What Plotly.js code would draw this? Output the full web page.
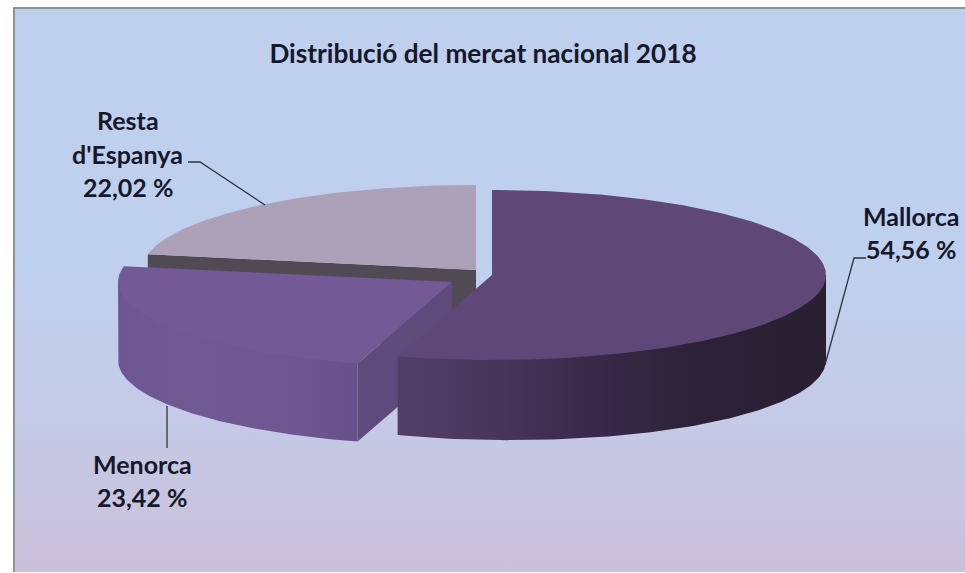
<!DOCTYPE html>
<html>
<head>
<meta charset="utf-8">
<script src="https://cdn.plot.ly/plotly-3.0.1.min.js"></script>
<style>
html,body{margin:0;padding:0;background:#fff;width:965px;height:573px;overflow:hidden}
#frame{position:absolute;left:13px;top:7px;width:952px;height:565px;box-sizing:border-box;
 border-left:2px solid #8d9296;border-top:2px solid #8d9296;
 background:linear-gradient(180deg,#bfd0ee 0%,#bfd0ee 45%,#c4cbe8 70%,#cbc0da 100%)}
#chart{position:absolute;left:0;top:0;width:965px;height:573px}
</style>
</head>
<body>
<div id="frame"></div>
<div id="chart"></div>
<script>
// Data
const categories = ["Mallorca", "Menorca", "Resta d'Espanya"];
const shares = [54.56, 23.42, 22.02];
const chartTitle = "Distribució del mercat nacional 2018";

// Projection of the tilted disc, in plot units
const radiusX = 334, radiusY = 85;
const apexes = {Mallorca:[492,275], Menorca:[452,282], Resta:[476,270]};
const depthMenorca = 78, depthResta = 78;

// Slice angles (clockwise from 12 o'clock) derived from the shares
const total = shares.reduce((a,b)=>a+b,0);
const degMallorca = shares[0]/total*360;
const degMenorca = degMallorca + shares[1]/total*360;

function rim(c,t,k){const r=t*Math.PI/180,s=k||1;return [c[0]+s*radiusX*Math.sin(r), c[1]-s*radiusY*Math.cos(r)];}
function arc(c,t0,t1,depth,k){
  const pts=[],n=Math.max(2,Math.ceil(Math.abs(t1-t0)));
  for(let i=0;i<=n;i++){const t=t0+(t1-t0)*i/n;const p=rim(c,t,k);pts.push([p[0],p[1]+(depth?depth(t):0)]);}
  return pts;
}
function poly(pts,style){
  const closed=pts.concat([pts[0]]);
  return Object.assign({type:'scatter',mode:'lines',x:closed.map(p=>p[0]),y:closed.map(p=>p[1]),
    fill:'toself',line:{width:0},hoverinfo:'skip',showlegend:false},style);
}
function face(c,t0,t1,color){return poly([c].concat(arc(c,t0,t1)),{fillcolor:color});}
// The wall runs a little under the top face so no seam shows along the rim
function wall(c,t0,t1,depth,stops){
  const under=arc(c,t0,t1,null,0.96), down=arc(c,t1,t0,depth);
  return poly([rim(c,t0)].concat(under,[rim(c,t1)],down),{fillgradient:{type:'horizontal',colorscale:stops}});
}
function cut(c,t,d,color){
  const p=rim(c,t);
  return poly([c,p,[p[0],p[1]+d],[c[0],c[1]+d]],{fillcolor:color});
}
const depthMallorca = t => 80 + 5*Math.sin(t*Math.PI/180);

const traces = [
  cut(apexes.Resta,degMenorca,depthResta,'#504a54'),
  face(apexes.Resta,degMenorca,360,'#aca1b9'),
  cut(apexes.Menorca,degMallorca,depthMenorca,'#5f4a7c'),
  wall(apexes.Menorca,degMallorca,Math.min(270,degMenorca),()=>depthMenorca,
       [[0,'#6d5691'],[0.3,'#715994'],[0.75,'#6e5691'],[1,'#67508a']]),
  face(apexes.Menorca,degMallorca,degMenorca,'#735a96'),
  wall(apexes.Mallorca,90,degMallorca,depthMallorca,
       [[0,'#523f68'],[0.25,'#46345a'],[0.45,'#392a49'],[0.7,'#2c2137'],[1,'#2a1f31']]),
  face(apexes.Mallorca,0,degMallorca,'#5f4878')
];

// Leader lines
const leaderResta = {x:[188,200,265], y:[162,162,205]};
const leaderMenorca = {x:[167,167], y:[406,448]};
const leaderMallorca = {x:[866,854,825], y:[258,258,365]};
[leaderResta,leaderMenorca,leaderMallorca].forEach(l=>traces.push({
  type:'scatter',mode:'lines',x:l.x,y:l.y,line:{color:'#2d3440',width:1.3},hoverinfo:'skip',showlegend:false}));

const pct = v => v.toFixed(2).replace('.',',')+' %';
const labelFont = {family:'Lato, "Open Sans", sans-serif',size:25,color:'#15182a',weight:700};
function label(text,x,y){return {text,x,y,xref:'x',yref:'y',xanchor:'center',yanchor:'middle',showarrow:false,font:labelFont};}

const layout = {
  width:965,height:573,margin:{l:0,r:0,t:0,b:0},
  paper_bgcolor:'rgba(0,0,0,0)',plot_bgcolor:'rgba(0,0,0,0)',
  showlegend:false,
  title:{text:chartTitle,x:483/965,xanchor:'center',y:1-54/573,yanchor:'middle',
         font:{family:'Lato, "Open Sans", sans-serif',size:26.2,color:'#15182a',weight:700}},
  xaxis:{range:[0,965],visible:false,fixedrange:true},
  yaxis:{range:[573,0],visible:false,fixedrange:true},
  annotations:[
    label('Resta',128,120),
    label("d'Espanya",127,154),
    label(pct(shares[2]),128,187),
    label(categories[0],911,216),
    label(pct(shares[0]),911,249),
    label(categories[1],142,464),
    label(pct(shares[1]),142,497)
  ]
};
Plotly.newPlot('chart',traces,layout,{displayModeBar:false,staticPlot:true});
</script>
</body>
</html>
